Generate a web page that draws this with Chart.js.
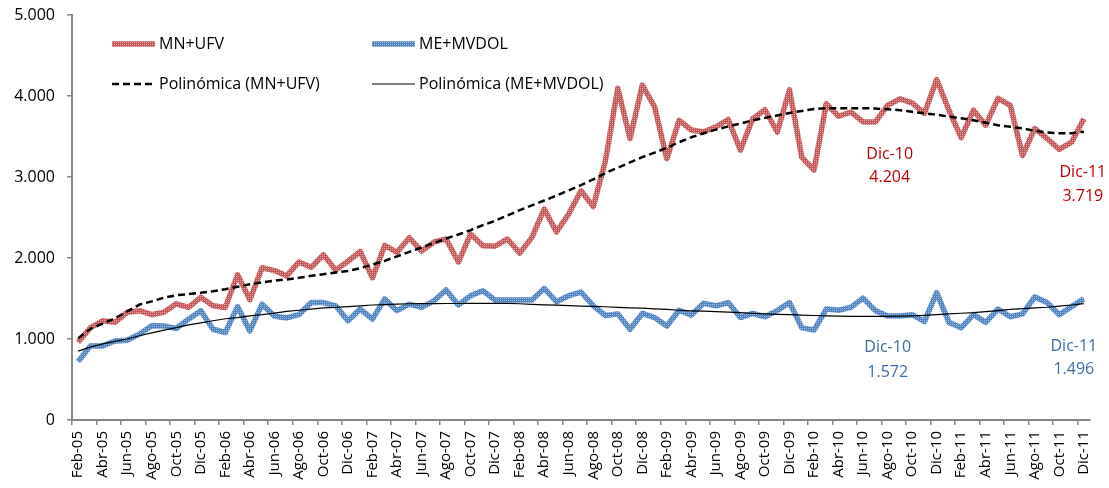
<!DOCTYPE html>
<html>
<head>
<meta charset="utf-8">
<script src="https://cdn.jsdelivr.net/npm/chart.js@4.4.1/dist/chart.umd.min.js"></script>
<style>
  html, body { margin: 0; padding: 0; background: #fff; }
  #wrap { width: 1109px; height: 488px; position: relative; }
</style>
</head>
<body>
<div id="wrap"><canvas id="chart"></canvas></div>
<script>
// Monthly categories, Feb-05 .. Dic-11
const months = [
  'Feb-05','Mar-05','Abr-05','May-05','Jun-05','Jul-05','Ago-05','Sep-05','Oct-05','Nov-05','Dic-05',
  'Ene-06','Feb-06','Mar-06','Abr-06','May-06','Jun-06','Jul-06','Ago-06','Sep-06','Oct-06','Nov-06','Dic-06',
  'Ene-07','Feb-07','Mar-07','Abr-07','May-07','Jun-07','Jul-07','Ago-07','Sep-07','Oct-07','Nov-07','Dic-07',
  'Ene-08','Feb-08','Mar-08','Abr-08','May-08','Jun-08','Jul-08','Ago-08','Sep-08','Oct-08','Nov-08','Dic-08',
  'Ene-09','Feb-09','Mar-09','Abr-09','May-09','Jun-09','Jul-09','Ago-09','Sep-09','Oct-09','Nov-09','Dic-09',
  'Ene-10','Feb-10','Mar-10','Abr-10','May-10','Jun-10','Jul-10','Ago-10','Sep-10','Oct-10','Nov-10','Dic-10',
  'Ene-11','Feb-11','Mar-11','Abr-11','May-11','Jun-11','Jul-11','Ago-11','Sep-11','Oct-11','Nov-11','Dic-11'
];

const mnUfv = [
  960, 1140, 1225, 1205, 1330, 1350, 1300, 1330, 1435, 1390, 1515,
  1410, 1390, 1795, 1485, 1880, 1845, 1780, 1950, 1885, 2040, 1850, 1960,
  2080, 1755, 2155, 2070, 2250, 2085, 2195, 2235, 1950, 2295, 2150, 2145,
  2235, 2060, 2255, 2605, 2320, 2545, 2830, 2635, 3205, 4095, 3475, 4135,
  3865, 3225, 3700, 3580, 3555, 3620, 3710, 3330, 3720, 3830, 3555, 4075,
  3245, 3085, 3905, 3750, 3800, 3680, 3680, 3885, 3965, 3915, 3785, 4204,
  3825, 3485, 3825, 3640, 3970, 3885, 3265, 3600, 3475, 3340, 3430, 3719
];

const meMvdol = [
  720, 915, 915, 975, 985, 1060, 1165, 1160, 1130, 1245, 1350,
  1120, 1080, 1400, 1100, 1430, 1285, 1260, 1300, 1450, 1450, 1410, 1225,
  1370, 1245, 1495, 1350, 1430, 1390, 1470, 1605, 1420, 1535, 1595, 1480,
  1480, 1480, 1480, 1625, 1460, 1535, 1580, 1410, 1290, 1310, 1120, 1315,
  1265, 1160, 1355, 1295, 1440, 1410, 1450, 1265, 1315, 1275, 1350, 1450,
  1140, 1110, 1370, 1355, 1390, 1505, 1350, 1285, 1285, 1300, 1215, 1572,
  1205, 1140, 1300, 1205, 1370, 1275, 1310, 1520, 1450, 1300, 1400, 1496
];

// polynomial trend lines
const trendMn = [
  1010, 1125, 1190, 1255, 1340, 1425, 1465, 1510, 1540, 1555, 1570,
  1590, 1615, 1645, 1675, 1700, 1720, 1735, 1755, 1780, 1800, 1820, 1840,
  1875, 1920, 1965, 2020, 2075, 2130, 2185, 2240, 2290, 2345, 2405, 2460,
  2525, 2590, 2650, 2710, 2770, 2835, 2900, 2970, 3050, 3115, 3180, 3245,
  3300, 3360, 3430, 3490, 3540, 3585, 3625, 3660, 3700, 3730, 3760, 3790,
  3815, 3840, 3850, 3850, 3850, 3850, 3845, 3835, 3825, 3805, 3785, 3770,
  3745, 3725, 3700, 3670, 3640, 3620, 3600, 3570, 3550, 3540, 3540, 3560
];

const trendMe = [
  850, 900, 940, 970, 1000, 1040, 1075, 1110, 1140, 1175, 1200,
  1225, 1250, 1265, 1285, 1300, 1320, 1340, 1355, 1370, 1385, 1390, 1400,
  1410, 1420, 1425, 1430, 1435, 1436, 1437, 1438, 1438, 1439, 1440, 1440,
  1440, 1435, 1428, 1422, 1417, 1412, 1407, 1402, 1398, 1390, 1385, 1380,
  1372, 1365, 1355, 1348, 1343, 1338, 1332, 1325, 1316, 1310, 1305, 1300,
  1295, 1290, 1286, 1283, 1280, 1279, 1279, 1280, 1282, 1286, 1292, 1300,
  1310, 1318, 1325, 1338, 1350, 1365, 1375, 1385, 1392, 1405, 1420, 1436
];

const yTickLabels = ['0', '1.000', '2.000', '3.000', '4.000', '5.000'];

const FONT = '"Open Sans", "Noto Sans", sans-serif';
const RED_TXT = '#c00000';
const BLUE_TXT = '#3d6ca8';

function fmt(v) {
  return String(v).replace(/\B(?=(\d{3})+(?!\d))/g, '.');
}

// Excel-ish textured stroke for the two data lines (fine 2x2 dither)
function texture(base, light) {
  const c = document.createElement('canvas');
  c.width = 2; c.height = 2;
  const g = c.getContext('2d');
  g.fillStyle = base; g.fillRect(0, 0, 2, 2);
  g.fillStyle = light;
  g.fillRect(0, 0, 1, 1);
  return g.createPattern(c, 'repeat');
}

// 2x2 legend inside the plot area
const boxLegend = {
  id: 'boxLegend',
  afterDraw(chart) {
    const { ctx, chartArea } = chart;
    const ds = chart.data.datasets;
    const cols = [40, 300], rows = [29, 69];
    const slots = [[0, 0], [1, 0], [0, 1], [1, 1]];
    ctx.save();
    ctx.font = '16px ' + FONT;
    ctx.textBaseline = 'middle';
    ctx.fillStyle = '#000';
    ds.forEach(function (d, i) {
      const x = chartArea.left + cols[slots[i][0]];
      const y = chartArea.top + rows[slots[i][1]];
      ctx.beginPath();
      ctx.lineWidth = d.borderWidth;
      ctx.strokeStyle = d.borderColor;
      ctx.setLineDash(d.borderDash || []);
      ctx.moveTo(x, y);
      ctx.lineTo(x + 43, y);
      ctx.stroke();
      ctx.setLineDash([]);
      ctx.fillText(d.label, x + 47, y);
    });
    ctx.restore();
  }
};

// value call-outs for Dic-10 and Dic-11
const notes = [
  { ds: 0, idx: 70, dx: -47, dy: [75, 98], color: RED_TXT },
  { ds: 0, idx: 82, dx: -1, dy: [54, 78], color: RED_TXT },
  { ds: 1, idx: 70, dx: -49, dy: [55, 80], color: BLUE_TXT },
  { ds: 1, idx: 82, dx: -10, dy: [48, 71], color: BLUE_TXT }
];
const callouts = {
  id: 'callouts',
  afterDraw(chart) {
    const { ctx } = chart;
    ctx.save();
    ctx.font = '16px ' + FONT;
    ctx.textAlign = 'center';
    ctx.textBaseline = 'middle';
    notes.forEach(function (n) {
      const pt = chart.getDatasetMeta(n.ds).data[n.idx];
      const v = chart.data.datasets[n.ds].data[n.idx];
      ctx.fillStyle = n.color;
      ctx.fillText(months[n.idx], pt.x + n.dx, pt.y + n.dy[0]);
      ctx.fillText(fmt(v), pt.x + n.dx, pt.y + n.dy[1]);
    });
    ctx.restore();
  }
};

const axisGray = '#868686';

new Chart(document.getElementById('chart'), {
  type: 'line',
  data: {
    labels: months,
    datasets: [
      { label: 'MN+UFV', data: mnUfv, borderColor: texture('#c4575a', '#e3a3a1'), borderWidth: 5.5, order: 2 },
      { label: 'ME+MVDOL', data: meMvdol, borderColor: texture('#5085c2', '#9dbce0'), borderWidth: 5.5, order: 2 },
      { label: 'Polinómica (MN+UFV)', data: trendMn, borderColor: '#000', borderWidth: 2.5, borderDash: [7, 4], order: 1 },
      { label: 'Polinómica (ME+MVDOL)', data: trendMe, borderColor: '#000', borderWidth: 1.2, order: 1 }
    ]
  },
  options: {
    responsive: true,
    maintainAspectRatio: false,
    animation: false,
    layout: { padding: { top: 15, right: 19, left: 0, bottom: 0 } },
    elements: {
      point: { radius: 0, hoverRadius: 0 },
      line: { tension: 0, borderJoinStyle: 'round', borderCapStyle: 'butt' }
    },
    plugins: {
      legend: { display: false },
      tooltip: { enabled: false }
    },
    scales: {
      x: {
        offset: true,
        grid: {
          offset: true,
          drawOnChartArea: false,
          tickLength: 5,
          lineWidth: 1.5,
          color: c => (c.index !== undefined && c.index % 2 === 0) ? axisGray : 'rgba(0,0,0,0)'
        },
        border: { color: axisGray, width: 2 },
        ticks: {
          autoSkip: false,
          minRotation: 90,
          maxRotation: 90,
          padding: 6,
          color: '#000',
          font: { family: FONT, size: 15 },
          callback: (v, i) => (i % 2 === 0 ? months[i] : '')
        },
        afterFit: s => { s.height = 68; s.paddingLeft = 0; s.paddingRight = 0; }
      },
      y: {
        min: 0,
        max: 5000,
        grid: { drawOnChartArea: false, tickLength: 5, color: axisGray, lineWidth: 1.5 },
        border: { color: axisGray, width: 2 },
        ticks: {
          stepSize: 1000,
          padding: 12,
          color: '#000',
          font: { family: FONT, size: 16 },
          callback: v => yTickLabels[v / 1000]
        },
        afterFit: s => { s.width = 72; s.paddingTop = 0; s.paddingBottom = 0; }
      }
    }
  },
  plugins: [boxLegend, callouts]
});
</script>
</body>
</html>
